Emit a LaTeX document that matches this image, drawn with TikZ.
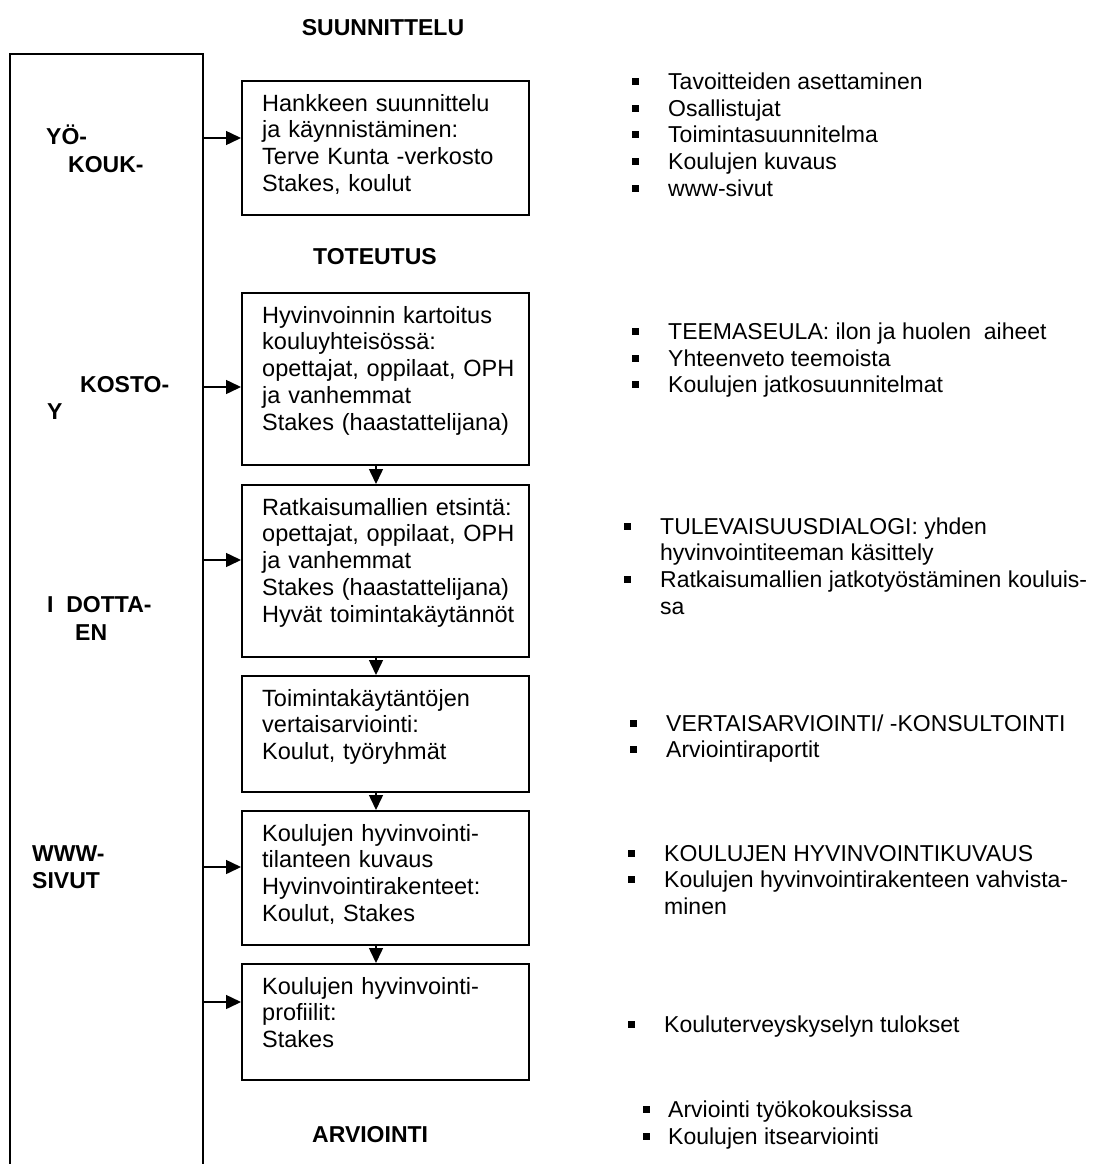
\documentclass[tikz,border=0pt]{standalone}
\usepackage{fontspec}
\setmainfont{Liberation Sans}
\usetikzlibrary{arrows.meta}

\begin{document}
\begin{tikzpicture}[x=1pt, y=-1pt,
		stage/.style={draw, line width=1.5pt, anchor=north west, minimum width=287pt, inner sep=0pt},
		stagetext/.style={anchor=base west, inner sep=0pt, text width=280pt, align=left, font=\fontsize{23.5}{26.9}\selectfont},
		listline/.style={anchor=base west, inner sep=0pt, font=\fontsize{23}{26.7}\selectfont},
		head/.style={anchor=base west, inner sep=0pt, font=\fontsize{23}{26.7}\selectfont\bfseries},
		bul/.style={fill, minimum size=7pt, inner sep=0pt},
		arr/.style={line width=1.5pt, -{Triangle[length=15pt, width=14pt]}}]

		\useasboundingbox (0,0) rectangle (1102,1164);

		% left frame, open at the bottom
		\draw[line width=1.5pt] (10,1164) |- (203,54) -- (203,1164);

		\node[head] (w1) at (46,144) {YÖ-};
		\node[head] (w2) at (68,172) {KOUK-};
		\node[head] (w3) at (80,392) {KOSTO-};
		\node[head] (w4) at (47,419) {Y};
		\node[head] (w5) at (47,612) {I~~DOTTA-};
		\node[head] (w6) at (75,640) {EN};
		\node[head] (w7) at (32,861) {WWW-};
		\node[head] (w8) at (32,888) {SIVUT};

		% phase titles
		\node[head, anchor=base] (h1) at (383,36) {SUUNNITTELU};
		\node[head] (h2) at (313,264) {TOTEUTUS};
		\node[head] (h3) at (312,1142) {ARVIOINTI};

		% stage boxes
		\node[stage, minimum height=134pt] (b1) at (241,80) {};
		\node[stage, minimum height=172pt] (b2) at (241,292) {};
		\node[stage, minimum height=172pt] (b3) at (241,484) {};
		\node[stage, minimum height=116pt] (b4) at (241,675) {};
		\node[stage, minimum height=134pt] (b5) at (241,810) {};
		\node[stage, minimum height=116pt] (b6) at (241,963) {};

		\node[stagetext] (t1) at (262,111) {Hankkeen suunnittelu\\ja käynnistäminen:\\Terve Kunta -verkosto\\Stakes, koulut};
		\node[stagetext] (t2) at (262,323) {Hyvinvoinnin kartoitus\\kouluyhteisössä:\\opettajat, oppilaat, OPH\\ja vanhemmat\\Stakes (haastattelijana)};
		\node[stagetext] (t3) at (262,515) {Ratkaisumallien etsintä:\\opettajat, oppilaat, OPH\\ja vanhemmat\\Stakes (haastattelijana)\\Hyvät toimintakäytännöt};
		\node[stagetext] (t4) at (262,706) {Toimintakäytäntöjen\\vertaisarviointi:\\Koulut, työryhmät};
		\node[stagetext] (t5) at (262,841) {Koulujen hyvinvointi-\\tilanteen kuvaus\\Hyvinvointirakenteet:\\Koulut, Stakes};
		\node[stagetext] (t6) at (262,994) {Koulujen hyvinvointi-\\profiilit:\\Stakes};

		% arrows from the frame
		\coordinate (f1) at (203,138);
		\coordinate (f2) at (203,387);
		\coordinate (f3) at (203,560);
		\coordinate (f5) at (203,867);
		\coordinate (f6) at (203,1002);
		\draw[arr] (f1) -- (f1 -| b1.west);
		\draw[arr] (f2) -- (f2 -| b2.west);
		\draw[arr] (f3) -- (f3 -| b3.west);
		\draw[arr] (f5) -- (f5 -| b5.west);
		\draw[arr] (f6) -- (f6 -| b6.west);

		% arrows down the column
		\coordinate (axis) at (376,0);
		\draw[arr] (b2.south -| axis) -- (b3.north -| axis);
		\draw[arr] (b3.south -| axis) -- (b4.north -| axis);
		\draw[arr] (b4.south -| axis) -- (b5.north -| axis);
		\draw[arr] (b5.south -| axis) -- (b6.north -| axis);

		% bullet lists
		\node[bul] (d1a) at (635,81) {};
		\node[bul] (d1b) at (635,108) {};
		\node[bul] (d1c) at (635,134) {};
		\node[bul] (d1d) at (635,161) {};
		\node[bul] (d1e) at (635,188) {};
		\node[listline] (l1a) at (668,89) {Tavoitteiden asettaminen};
		\node[listline] (l1b) at (668,116) {Osallistujat};
		\node[listline] (l1c) at (668,142) {Toimintasuunnitelma};
		\node[listline] (l1d) at (668,169) {Koulujen kuvaus};
		\node[listline] (l1e) at (668,196) {www-sivut};

		\node[bul] (d2a) at (635,331) {};
		\node[bul] (d2b) at (635,358) {};
		\node[bul] (d2c) at (635,384) {};
		\node[listline] (l2a) at (668,339) {TEEMASEULA: ilon ja huolen\ \ aiheet};
		\node[listline] (l2b) at (668,366) {Yhteenveto teemoista};
		\node[listline] (l2c) at (668,392) {Koulujen jatkosuunnitelmat};

		\node[bul] (d3a) at (627,526) {};
		\node[bul] (d3b) at (627,579) {};
		\node[listline] (l3a) at (660,534) {TULEVAISUUSDIALOGI: yhden};
		\node[listline] (l3b) at (660,560) {hyvinvointiteeman käsittely};
		\node[listline] (l3c) at (660,587) {Ratkaisumallien jatkotyöstäminen kouluis-};
		\node[listline] (l3d) at (660,614) {sa};

		\node[bul] (d4a) at (633,723) {};
		\node[bul] (d4b) at (633,749) {};
		\node[listline] (l4a) at (666,731) {VERTAISARVIOINTI/ -KONSULTOINTI};
		\node[listline] (l4b) at (666,757) {Arviointiraportit};

		\node[bul] (d5a) at (631,853) {};
		\node[bul] (d5b) at (631,879) {};
		\node[listline] (l5a) at (664,861) {KOULUJEN HYVINVOINTIKUVAUS};
		\node[listline] (l5b) at (664,887) {Koulujen hyvinvointirakenteen vahvista-};
		\node[listline] (l5c) at (664,914) {minen};

		\node[bul] (d6a) at (631,1024) {};
		\node[listline] (l6a) at (664,1032) {Kouluterveyskyselyn tulokset};

		\node[bul] (d7a) at (646,1109) {};
		\node[bul] (d7b) at (646,1136) {};
		\node[listline] (l7a) at (668,1117) {Arviointi työkokouksissa};
		\node[listline] (l7b) at (668,1144) {Koulujen itsearviointi};

	\end{tikzpicture}
\end{document}
